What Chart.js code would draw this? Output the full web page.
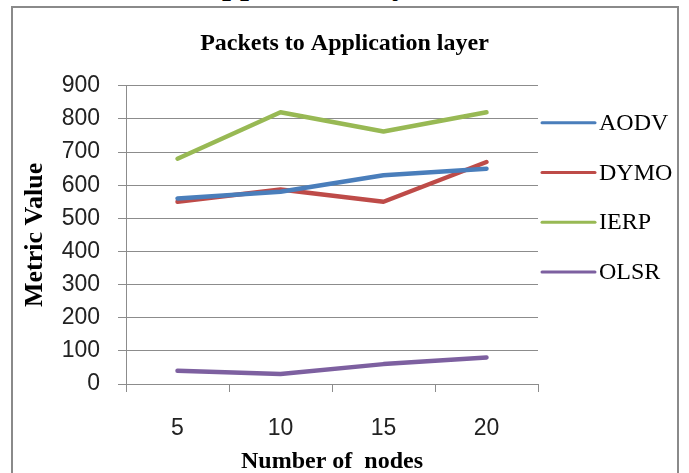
<!DOCTYPE html>
<html>
<head>
<meta charset="utf-8">
<script src="https://cdn.jsdelivr.net/npm/chart.js@4.4.1/dist/chart.umd.min.js"></script>
<style>
  html, body { margin: 0; padding: 0; background: #fff; overflow: hidden; }
  #wrap { position: relative; width: 689px; height: 473px; }
  #frame {
    position: absolute; left: 11px; top: 6px; width: 668px; height: 480px;
    border: 2px solid #8a8a8a; box-sizing: border-box;
  }
  #cut {
    position: absolute; left: 199px; top: -33px; white-space: nowrap;
    font: bold 32px/32px "Liberation Serif", serif; color: #000;
  }
  canvas { position: absolute; left: 0; top: 0; }
</style>
</head>
<body>
<div id="wrap">
  <div id="cut">Application layer</div>
  <div id="frame"></div>
  <canvas id="chart" width="689" height="473"></canvas>
</div>
<script>
const nodes = ['5', '10', '15', '20'];
const seriesNames = ['AODV', 'DYMO', 'IERP', 'OLSR'];
const aodv = [560, 580, 630, 650];
const dymo = [550, 587, 550, 670];
const ierp = [680, 820, 762, 820];
const olsr = [40, 30, 60, 80];
const yTicks = [0, 100, 200, 300, 400, 500, 600, 700, 800, 900];

const COLORS = ['#4a7ebb', '#be4b48', '#98b954', '#7d60a0'];
const GRID = '#8c8c8c';
const SERIF = '"Liberation Serif", "Times New Roman", serif';
const SANS = '"Liberation Sans", Arial, sans-serif';

// legend drawn at the right, Excel style: short line + serif label
const sideLegend = {
  id: 'sideLegend',
  afterDraw(chart) {
    const { ctx, chartArea } = chart;
    const x0 = chartArea.right + 4;
    ctx.save();
    ctx.font = `24px ${SERIF}`;
    ctx.textBaseline = 'middle';
    chart.data.datasets.forEach((ds, i) => {
      const y = chartArea.top + 37 + i * 49.7;
      ctx.strokeStyle = ds.borderColor;
      ctx.lineWidth = 3;
      ctx.lineCap = 'round';
      ctx.beginPath();
      ctx.moveTo(x0, y);
      ctx.lineTo(x0 + 53, y);
      ctx.stroke();
      ctx.fillStyle = '#000';
      ctx.fillText(ds.label, x0 + 57, y + 1);
    });
    ctx.restore();
  },
};

const values = [aodv, dymo, ierp, olsr];

new Chart(document.getElementById('chart'), {
  type: 'line',
  data: {
    labels: nodes,
    datasets: seriesNames.map((name, i) => ({
      label: name,
      data: values[i],
      borderColor: COLORS[i],
      backgroundColor: COLORS[i],
      borderWidth: 4.5,
      pointRadius: 0,
      tension: 0,
      borderCapStyle: 'round',
      borderJoinStyle: 'round',
    })),
  },
  options: {
    responsive: false,
    animation: false,
    layout: { padding: 0 },
    plugins: {
      legend: { display: false },
      tooltip: { enabled: false },
      title: {
        display: true,
        text: 'Packets to Application layer',
        color: '#000',
        font: { family: SERIF, size: 24, weight: 'bold', lineHeight: 1.2 },
        padding: { top: 29, bottom: 28 },
      },
    },
    scales: {
      x: {
        offset: true,
        grid: { offset: true, drawOnChartArea: false, drawTicks: true, tickLength: 8, color: GRID, lineWidth: 1 },
        border: { display: true, color: GRID, width: 1 },
        ticks: { color: '#222', padding: 23, font: { family: SANS, size: 23 } },
        title: {
          display: true,
          text: 'Number of  nodes',
          color: '#000',
          font: { family: SERIF, size: 24, weight: 'bold', lineHeight: 0.9 },
          padding: { top: 0, bottom: 0 },
        },
        afterFit: scale => { scale.height = 89; },
      },
      y: {
        min: 0,
        max: 900,
        afterBuildTicks: scale => { scale.ticks = yTicks.map(v => ({ value: v })); },
        grid: { color: GRID, lineWidth: 1, tickLength: 8 },
        border: { display: true, color: GRID, width: 1 },
        ticks: { color: '#222', padding: 18, font: { family: SANS, size: 23 } },
        title: {
          display: true,
          text: 'Metric Value',
          color: '#000',
          font: { family: SERIF, size: 26, weight: 'bold', lineHeight: 1.2 },
          padding: { top: 20, bottom: 0 },
        },
        afterFit: scale => { scale.width = 126; },
      },
      // empty right-hand axis only reserves room for the legend
      side: {
        position: 'right',
        min: 0,
        max: 1,
        grid: { display: false },
        border: { display: false },
        ticks: { display: false },
        afterFit: scale => { scale.width = 151; },
      },
    },
  },
  plugins: [sideLegend],
});
</script>
</body>
</html>
